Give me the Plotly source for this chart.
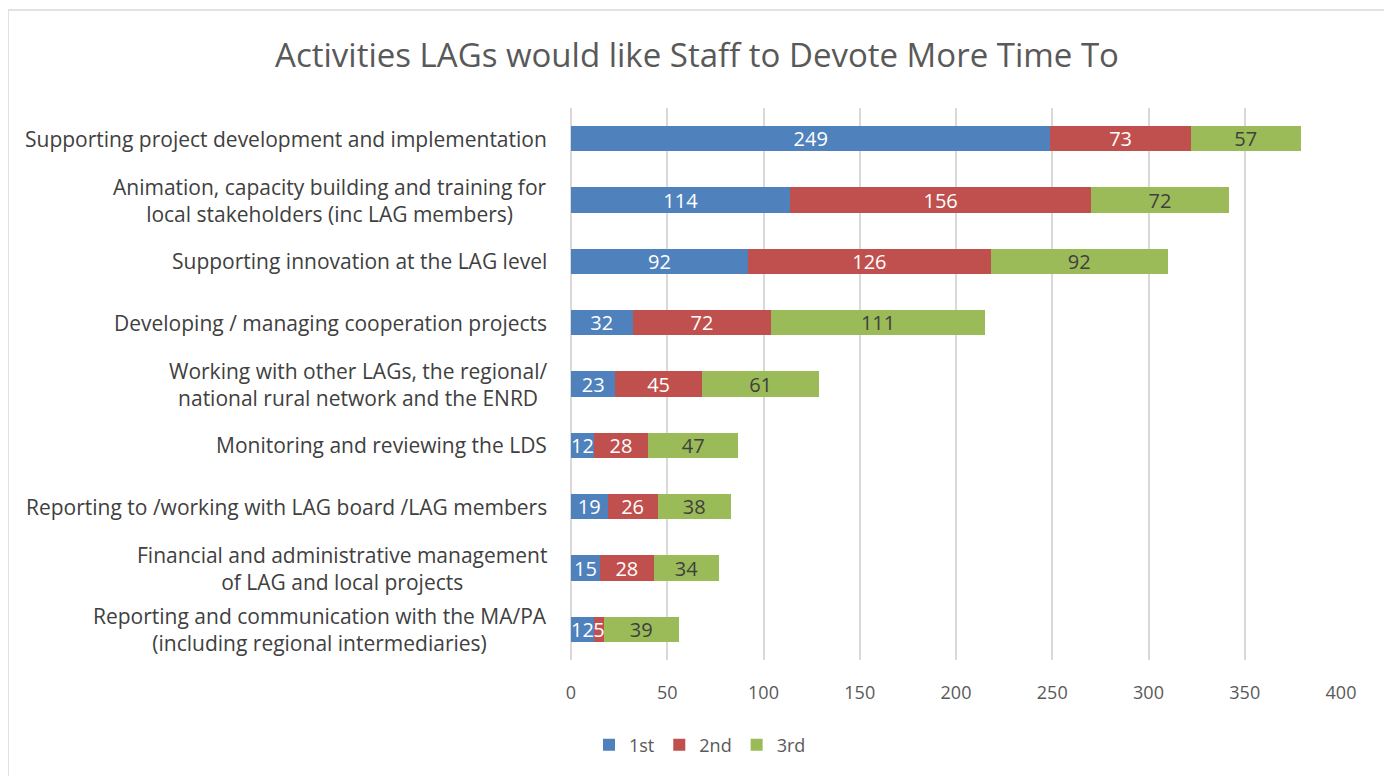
import plotly.graph_objects as go

categories = [
    "Supporting project development and implementation",
    "Animation, capacity building and training for<br>local stakeholders (inc LAG members)",
    "Supporting innovation at the LAG level",
    "Developing / managing cooperation projects",
    "Working with other LAGs, the regional/<br>national rural network and the ENRD",
    "Monitoring and reviewing the LDS",
    "Reporting to /working with LAG board /LAG members",
    "Financial and administrative management<br>of LAG and local projects",
    "Reporting and communication with the MA/PA<br>(including regional intermediaries)",
]
first = [249, 114, 92, 32, 23, 12, 19, 15, 12]
second = [73, 156, 126, 72, 45, 28, 26, 28, 5]
third = [57, 72, 92, 111, 61, 47, 38, 34, 39]
series_names = ["1st", "2nd", "3rd"]
colors = ["#4f81bd", "#c0504d", "#9bbb59"]
text_colors = ["white", "white", "#404040"]
x_ticks = [0, 50, 100, 150, 200, 250, 300, 350, 400]

FONT = "Open Sans"
OFF = 8  # page body margin
W, H = 1392 - OFF, 776 - OFF
# reference pixel coordinates (page), shifted by OFF
PL, PR, PT, PB = 571 - OFF, 1341 - OFF, 108 - OFF, 660 - OFF
L, R, T, B = PL, W - PR, PT, H - PB
pw, ph = PR - PL, PB - PT


def px_x(x):
    return (x - OFF - PL) / pw


def px_y(y):
    return (PB - (y - OFF)) / ph


fig = go.Figure()
for name, vals, c, tc in zip(series_names, [first, second, third], colors, text_colors):
    fig.add_trace(go.Bar(
        name=name, y=categories, x=vals, orientation="h",
        marker=dict(color=c, line=dict(width=0)),
        text=vals, textposition="inside", insidetextanchor="middle",
        textangle=0, constraintext="none",
        textfont=dict(color=tc, size=20, family=FONT),
    ))

for cat in categories:
    fig.add_annotation(
        x=px_x(549), xref="paper", xanchor="right",
        y=cat, yref="y", yanchor="middle",
        text=cat, showarrow=False, align="center",
        font=dict(size=21, color="#404040", family=FONT),
    )

fig.add_shape(type="rect", xref="paper", yref="paper",
              x0=px_x(8), x1=px_x(1386),
              y0=px_y(790), y1=px_y(10),
              line=dict(color="#d9d9d9", width=1.5), layer="below")

fig.update_layout(
    width=W, height=H,
    margin=dict(l=L, r=R, t=T, b=B, autoexpand=False),
    barmode="stack", bargap=0.59,
    plot_bgcolor="white", paper_bgcolor="white",
    uniformtext=dict(minsize=20, mode="show"),
    title=dict(text="Activities LAGs would like Staff to Devote More Time To",
               x=(697 - OFF) / W, xanchor="center", y=1 - (55 - OFF) / H, yanchor="middle",
               font=dict(size=33, color="#595959", family=FONT)),
    legend=dict(orientation="h", x=px_x(700), xanchor="center",
                y=px_y(745), yanchor="middle",
                font=dict(size=18, color="#595959", family=FONT),
                itemwidth=30, traceorder="normal"),
    xaxis=dict(range=[0, 400], tickvals=x_ticks, showgrid=True,
               gridcolor="#d9d9d9", gridwidth=1.5, zeroline=True,
               zerolinecolor="#d9d9d9", zerolinewidth=1.5,
               ticks="", ticklabelstandoff=20, fixedrange=True,
               tickfont=dict(size=18, color="#595959", family=FONT)),
    yaxis=dict(range=[8.5, -0.5], showticklabels=False, showgrid=False,
               zeroline=False, ticks="", fixedrange=True),
    showlegend=True,
)

fig.write_html("out.html")
